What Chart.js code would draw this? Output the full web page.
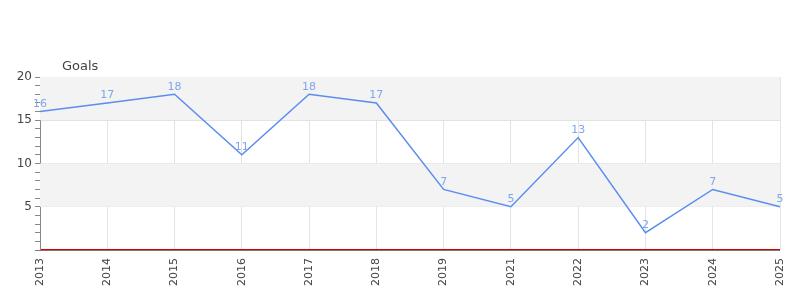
<!DOCTYPE html>
<html>
<head>
<meta charset="utf-8">
<script src="https://cdn.jsdelivr.net/npm/chart.js@4"></script>
<style>
  body { margin: 0; background: #fff; }
  #wrap { width: 800px; height: 300px; }
</style>
</head>
<body>
<div id="wrap"><canvas id="myChart"></canvas></div>
<script>
var years = ['2013', '2014', '2015', '2016', '2017', '2018', '2019', '2021', '2022', '2023', '2024', '2025'];
var goals = [16, 17, 18, 11, 18, 17, 7, 5, 13, 2, 7, 5];
var bandStarts = [5, 15];

// grey bands, red zero line, value labels, axis title
var extras = {
    id: 'extras',
    beforeDatasetsDraw: function (chart) {
        var c = chart.ctx, a = chart.chartArea, y = chart.scales.y;
        c.save();
        c.fillStyle = '#f3f3f3';
        bandStarts.forEach(function (v) {
            var top = y.getPixelForValue(v + 5), bot = y.getPixelForValue(v);
            c.fillRect(a.left, top, a.right - a.left, bot - top);
        });
        c.restore();
    },
    afterDraw: function (chart) {
        var c = chart.ctx, a = chart.chartArea;
        var b = Math.round(a.bottom);
        c.save();
        c.fillStyle = '#777';
        c.fillRect(a.left - 5, b, a.right - a.left + 5, 1);
        c.fillStyle = '#dd0000';
        c.fillRect(a.left + 1, b - 1, a.right - a.left - 1, 1);

        c.font = '11px "DejaVu Sans"';
        c.fillStyle = '#7ea6ec';
        c.textAlign = 'center';
        c.textBaseline = 'bottom';
        chart.getDatasetMeta(0).data.forEach(function (p, i) {
            c.fillText(goals[i], p.x, p.y - 2);
        });

        c.font = '13px "DejaVu Sans"';
        c.fillStyle = '#444';
        c.textAlign = 'left';
        c.textBaseline = 'alphabetic';
        c.fillText('Goals', a.left + 22, a.top - 7);
        c.restore();
    }
};

var ctx = document.getElementById('myChart').getContext('2d');
var myChart = new Chart(ctx, {
    type: 'line',
    data: {
        labels: years,
        datasets: [{
            label: 'Goals',
            data: goals,
            borderColor: '#5b8def',
            borderWidth: 1.5,
            pointRadius: 0,
            tension: 0,
            fill: false
        }]
    },
    plugins: [extras],
    options: {
        responsive: true,
        maintainAspectRatio: false,
        animation: false,
        layout: { padding: { top: 77, right: 20, left: 0, bottom: 0 } },
        plugins: {
            legend: { display: false },
            tooltip: { enabled: false }
        },
        scales: {
            x: {
                offset: false,
                afterFit: function (s) { s.height = 50; s.paddingRight = 0; s.paddingLeft = 0; },
                border: { display: false },
                grid: { color: '#e3e3e3', drawTicks: false },
                ticks: {
                    minRotation: 90, maxRotation: 90, padding: 8,
                    color: '#444',
                    font: { family: 'DejaVu Sans', size: 11 }
                }
            },
            y: {
                min: 0,
                max: 20,
                afterFit: function (s) { s.width = 40; s.paddingTop = 0; s.paddingBottom = 0; },
                border: { color: '#888' },
                grid: {
                    color: function (c) { return c.tick && c.tick.value % 5 === 0 && c.tick.value > 0 ? '#dedede' : 'transparent'; },
                    tickColor: '#888',
                    tickLength: 5
                },
                ticks: {
                    stepSize: 1,
                    autoSkip: false,
                    padding: 3,
                    color: '#444',
                    font: { family: 'DejaVu Sans', size: 12 },
                    callback: function (v) { return v % 5 === 0 && v > 0 ? v : ''; }
                }
            }
        }
    }
});
</script>
</body>
</html>
